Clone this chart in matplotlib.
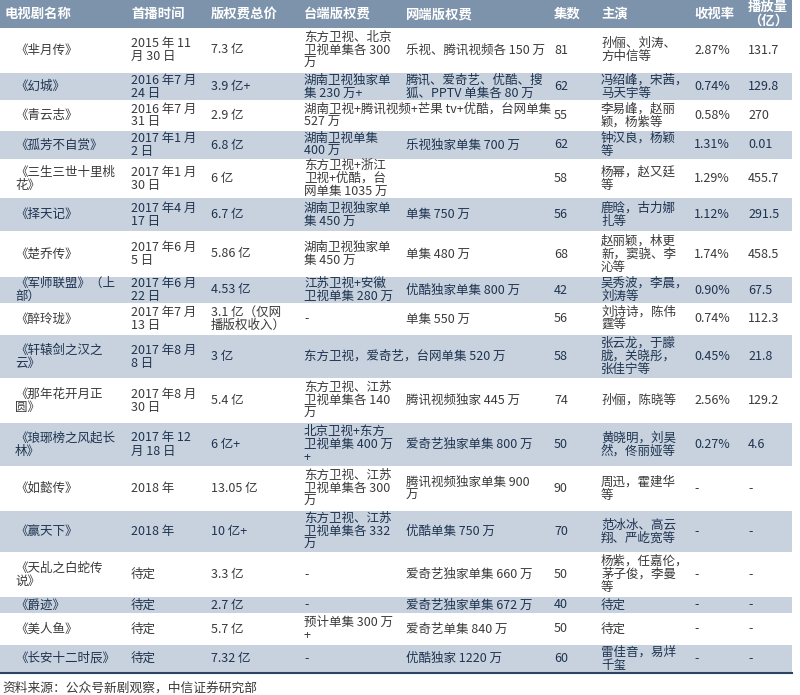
import matplotlib
matplotlib.use("Agg")
import matplotlib.pyplot as plt
from matplotlib.patches import Rectangle

plt.rcParams["font.family"] = ["Noto Sans CJK SC", "DejaVu Sans"]

headers = ["电视剧名称", "首播时间", "版权费总价", "台端版权费", "网端版权费", "集数", "主演", "收视率", "播放量\n（亿）"]
names = ["《芈月传》", "《幻城》", "《青云志》", "《孤芳不自赏》", "《三生三世十里桃\n花》", "《择天记》",
         "《楚乔传》", "《军师联盟》（上\n部）", "《醉玲珑》", "《轩辕剑之汉之\n云》", "《那年花开月正\n圆》",
         "《琅琊榜之风起长\n林》", "《如懿传》", "《赢天下》", "《天乩之白蛇传\n说》", "《爵迹》", "《美人鱼》", "《长安十二时辰》"]
dates = ["2015 年 11\n月 30 日", "2016 年7 月\n24 日", "2016 年7 月\n31 日", "2017 年1 月\n2 日", "2017 年1 月\n30 日",
         "2017 年4 月\n17 日", "2017 年6 月\n5 日", "2017 年6 月\n22 日", "2017 年7 月\n13 日", "2017 年8 月\n8 日",
         "2017 年8 月\n30 日", "2017 年 12\n月 18 日", "2018 年", "2018 年", "待定", "待定", "待定", "待定"]
totals = ["7.3 亿", "3.9 亿+", "2.9 亿", "6.8 亿", "6 亿", "6.7 亿", "5.86 亿", "4.53 亿", "3.1 亿（仅网\n播版权收入）",
          "3 亿", "5.4 亿", "6 亿+", "13.05 亿", "10 亿+", "3.3 亿", "2.7 亿", "5.7 亿", "7.32 亿"]
tv_fees = ["东方卫视、北京\n卫视单集各 300\n万", "湖南卫视独家单\n集 230 万+", "湖南卫视+腾讯视频+芒果 tv+优酷，台网单集\n527 万",
           "湖南卫视单集\n400 万", "东方卫视+浙江\n卫视+优酷，台\n网单集 1035 万", "湖南卫视独家单\n集 450 万",
           "湖南卫视独家单\n集 450 万", "江苏卫视+安徽\n卫视单集 280 万", "-", "东方卫视，爱奇艺，台网单集 520 万",
           "东方卫视、江苏\n卫视单集各 140\n万", "北京卫视+东方\n卫视单集 400 万\n+", "东方卫视、江苏\n卫视单集各 300\n万",
           "东方卫视、江苏\n卫视单集各 332\n万", "-", "-", "预计单集 300 万\n+", "-"]
web_fees = ["乐视、腾讯视频各 150 万", "腾讯、爱奇艺、优酷、搜\n狐、PPTV 单集各 80 万", "", "乐视独家单集 700 万", "",
            "单集 750 万", "单集 480 万", "优酷独家单集 800 万", "单集 550 万", "", "腾讯视频独家 445 万",
            "爱奇艺独家单集 800 万", "腾讯视频独家单集 900\n万", "优酷单集 750 万", "爱奇艺独家单集 660 万",
            "爱奇艺独家单集 672 万", "爱奇艺单集 840 万", "优酷独家 1220 万"]
episodes = ["81", "62", "55", "62", "58", "56", "68", "42", "56", "58", "74", "50", "90", "70", "50", "40", "50", "60"]
actors = ["孙俪、刘涛、\n方中信等", "冯绍峰，宋茜，\n马天宇等", "李易峰，赵丽\n颖，杨紫等", "钟汉良，杨颖\n等", "杨幂，赵又廷\n等",
          "鹿晗，古力娜\n扎等", "赵丽颖，林更\n新，窦骁、李\n沁等", "吴秀波，李晨，\n刘涛等", "刘诗诗，陈伟\n霆等",
          "张云龙，于朦\n胧，关晓彤，\n张佳宁等", "孙俪，陈晓等", "黄晓明，刘昊\n然，佟丽娅等", "周迅，霍建华\n等",
          "范冰冰、高云\n翔、严屹宽等", "杨紫，任嘉伦，\n茅子俊，李曼\n等", "待定", "待定", "雷佳音，易烊\n千玺"]
ratings = ["2.87%", "0.74%", "0.58%", "1.31%", "1.29%", "1.12%", "1.74%", "0.90%", "0.74%", "0.45%", "2.56%", "0.27%",
           "-", "-", "-", "-", "-", "-"]
plays = ["131.7", "129.8", "270", "0.01", "455.7", "291.5", "458.5", "67.5", "112.3", "21.8", "129.2", "4.6",
         "-", "-", "-", "-", "-", "-"]
source = "资料来源：公众号新剧观察，中信证券研究部"

W, H = 800, 695
fig = plt.figure(figsize=(8, 6.95), dpi=100)
ax = fig.add_axes([0, 0, 1, 1])
ax.set_xlim(0, W)
ax.set_ylim(H, 0)
ax.axis("off")

col_x = [5, 125, 205, 298, 400, 548, 595, 688, 742]
row_edges = [0, 28, 72, 101, 130, 160, 197, 232, 276, 304, 334, 379, 422, 467, 510, 553, 596, 614, 644, 673]
table_right = 792
FS = 9

ax.add_patch(Rectangle((0, 0), table_right, 28, color="#7d93ab", lw=0))
for x, h in zip(col_x, headers):
    ax.text(x + (6 if x > 5 else 0), 14, h, color="white", fontsize=9.6, fontweight="bold",
            va="center", ha="left", linespacing=0.95)

cols = [names, dates, totals, tv_fees, web_fees, episodes, actors, ratings, plays]
for i in range(len(names)):
    top, bot = row_edges[i + 1], row_edges[i + 2]
    shaded = i % 2 == 1
    if shaded:
        ax.add_patch(Rectangle((0, top + 1), table_right, bot - top - 2, color="#c8d2de", lw=0))
    color = "#1e3350" if shaded else "#3a3a3a"
    ymid = (top + bot) / 2
    for j, col in enumerate(cols):
        txt = col[i]
        if not txt:
            continue
        x = col_x[j] + (6 if j > 0 else 10)
        ax.text(x, ymid, txt, color=color, fontsize=FS, va="center", ha="left", linespacing=1.0)

ax.plot([0, table_right], [673, 673], color="#2c4463", lw=1.5)
ax.text(2, 688, source, fontsize=9.2, color="#3a3a3a", va="center", ha="left")

fig.savefig("out.png", dpi=100, facecolor="white")
